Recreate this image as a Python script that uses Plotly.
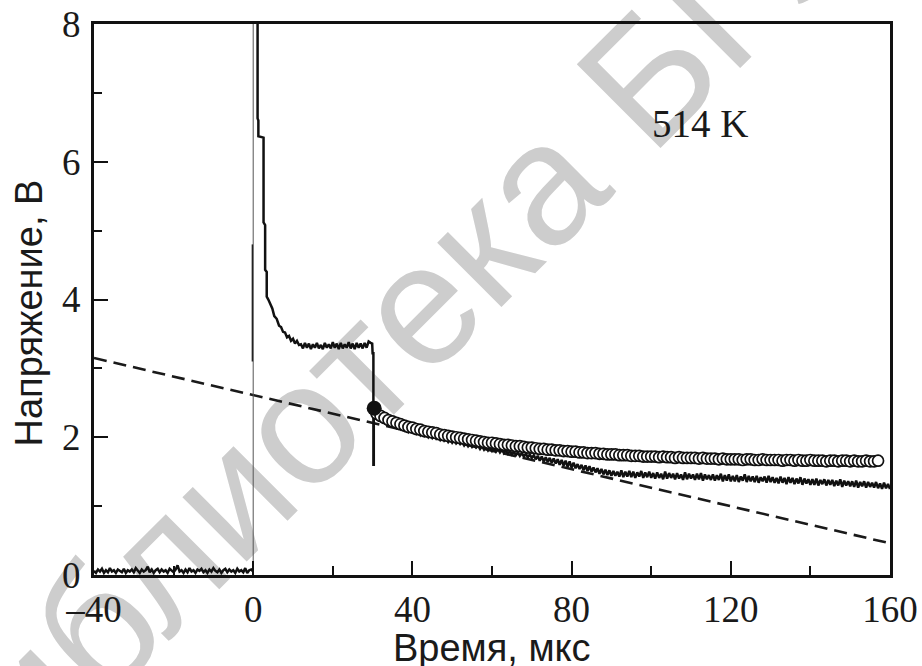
import numpy as np
import plotly.graph_objects as go

# ---------------- data ----------------
x_ticks = [-40, 0, 40, 80, 120, 160]
y_ticks = [0, 2, 4, 6, 8]

# baseline before the pulse, t = -40 ... 0 step 0.5 us
base_v = [0.06,0.03,0.08,0.05,0.09,0.03,0.07,0.04,0.10,0.05,
          0.07,0.03,0.08,0.06,0.04,0.09,0.03,0.07,0.05,0.08,
          0.04,0.10,0.06,0.03,0.08,0.05,0.07,0.12,0.04,0.08,
          0.03,0.07,0.09,0.04,0.08,0.05,0.07,0.03,0.09,0.06,
          0.04,0.08,0.14,0.05,0.07,0.03,0.08,0.04,0.10,0.05,
          0.07,0.03,0.08,0.06,0.09,0.04,0.07,0.03,0.08,0.05,
          0.10,0.06,0.04,0.08,0.03,0.07,0.09,0.04,0.08,0.05,
          0.07,0.03,0.09,0.05,0.07,0.04,0.10,0.03,0.07,0.08,
          0.05]
base_t0, base_dt = -40.0, 0.5

# leading edge of the pulse
rise_t = [0.0, 0.0]
rise_v = [0.05, 8.6]
spike_t = [-0.2, -0.2]
spike_v = [3.1, 4.8]

# fast decay after the pulse
decay_t = [1.1, 1.1, 1.3, 1.3, 2.6, 2.6, 3.0, 3.0, 3.4, 3.4, 3.8, 4.3, 4.8,
           5.3, 5.9, 6.5, 7.0, 7.5, 8.0, 8.5, 9.0, 9.5, 10.0, 10.5, 11.0, 11.5]
decay_v = [8.6, 6.63, 6.6, 6.37, 6.35, 5.12, 5.08, 4.43, 4.40, 4.04, 4.0, 3.93, 3.87,
           3.76, 3.72, 3.62, 3.60, 3.53, 3.52, 3.45, 3.47, 3.40, 3.43, 3.36, 3.40, 3.34]

# plateau, t = 12.0 ... 29.5 step 0.5 us
plat_v = [3.35,3.29,3.37,3.30,3.36,3.28,3.35,3.30,3.37,3.29,
          3.34,3.28,3.37,3.30,3.35,3.29,3.38,3.30,3.36,3.28,
          3.37,3.29,3.35,3.30,3.38,3.29,3.36,3.28,3.37,3.30,
          3.36,3.29,3.37,3.30,3.39,3.37]
plat_t0, plat_dt = 12.0, 0.5

# switch-off transient
drop_t = [29.9, 30.0, 30.2, 30.2, 30.3, 30.3]
drop_v = [3.36, 3.22, 3.22, 1.60, 1.60, 2.40]

# measured voltage after switch-off, t = 30.5 ... 160 step 0.5 us
tail_v = [2.34,2.28,2.31,2.24,2.27,2.21,2.24,2.18,2.22,2.17,
          2.20,2.14,2.18,2.12,2.15,2.10,2.14,2.08,2.12,2.07,
          2.10,2.05,2.08,2.03,2.07,2.02,2.05,2.00,2.04,1.99,
          2.03,1.98,2.01,1.96,2.00,1.95,1.98,1.93,1.97,1.92,
          1.96,1.91,1.94,1.90,1.93,1.88,1.92,1.87,1.91,1.86,
          1.89,1.85,1.88,1.83,1.87,1.82,1.86,1.81,1.85,1.80,
          1.84,1.79,1.83,1.78,1.82,1.77,1.81,1.76,1.80,1.75,
          1.79,1.74,1.78,1.73,1.77,1.72,1.76,1.71,1.75,1.70,
          1.74,1.68,1.73,1.66,1.72,1.65,1.71,1.64,1.70,1.63,
          1.69,1.62,1.68,1.60,1.67,1.59,1.66,1.57,1.65,1.56,
          1.63,1.55,1.61,1.54,1.60,1.52,1.59,1.51,1.58,1.50,
          1.56,1.49,1.55,1.47,1.54,1.46,1.53,1.45,1.52,1.44,
          1.51,1.44,1.50,1.43,1.52,1.42,1.50,1.43,1.51,1.42,
          1.50,1.41,1.49,1.43,1.51,1.41,1.49,1.42,1.50,1.41,
          1.48,1.40,1.49,1.41,1.47,1.39,1.50,1.40,1.48,1.41,
          1.47,1.39,1.48,1.40,1.46,1.38,1.49,1.39,1.47,1.40,
          1.46,1.38,1.47,1.39,1.48,1.37,1.46,1.39,1.45,1.38,
          1.46,1.37,1.45,1.38,1.47,1.36,1.45,1.37,1.46,1.36,
          1.44,1.36,1.45,1.35,1.43,1.37,1.46,1.35,1.44,1.36,
          1.43,1.35,1.44,1.34,1.42,1.36,1.43,1.34,1.44,1.35,
          1.42,1.34,1.41,1.33,1.43,1.34,1.41,1.32,1.42,1.34,
          1.41,1.32,1.40,1.33,1.42,1.31,1.40,1.33,1.39,1.31,
          1.39,1.31,1.40,1.30,1.38,1.32,1.39,1.30,1.38,1.31,
          1.38,1.29,1.37,1.30,1.39,1.28,1.37,1.30,1.36,1.29,
          1.36,1.28,1.37,1.27,1.35,1.29,1.36,1.27,1.35,1.28,
          1.34,1.27,1.35,1.26,1.33,1.25,1.34,1.26,1.32,1.25]
tail_t0, tail_dt = 30.5, 0.5

# model points (open circles), t = 31 ... 157 step 1 us
model_v = [2.34,2.31,2.28,2.25,2.23,2.21,2.19,2.17,2.15,2.14,
           2.12,2.11,2.09,2.08,2.07,2.06,2.04,2.03,2.02,2.01,
           2.00,1.99,1.98,1.97,1.96,1.95,1.94,1.93,1.92,1.92,
           1.91,1.90,1.89,1.89,1.88,1.87,1.87,1.86,1.85,1.85,
           1.84,1.83,1.83,1.82,1.82,1.81,1.81,1.80,1.80,1.79,
           1.79,1.78,1.78,1.77,1.77,1.77,1.76,1.76,1.75,1.75,
           1.75,1.74,1.74,1.74,1.73,1.73,1.73,1.72,1.72,1.72,
           1.72,1.71,1.72,1.71,1.71,1.70,1.71,1.70,1.70,1.70,
           1.70,1.69,1.70,1.69,1.69,1.69,1.68,1.69,1.68,1.68,
           1.68,1.68,1.67,1.68,1.68,1.67,1.67,1.68,1.67,1.67,
           1.67,1.67,1.66,1.67,1.67,1.66,1.67,1.66,1.66,1.67,
           1.66,1.66,1.66,1.65,1.66,1.66,1.65,1.66,1.66,1.65,
           1.66,1.65,1.65,1.66,1.65,1.65,1.66]
model_t0, model_dt = 31.0, 1.0

# switch-off point (filled circle)
off_t = [30.4]
off_v = [2.42]

# linear extrapolation (dashed)
fit_t = [-40, 160]
fit_v = [3.15, 0.46]

temp_label = "514 K"
x_title = "Время, мкс"
y_title = "Напряжение, В"
watermark = "Библиотека БГУИР"

# ---------------- build ----------------
def grid(t0, dt, vals):
    return list(t0 + dt * np.arange(len(vals)))

base_t = grid(base_t0, base_dt, base_v)
plat_t = grid(plat_t0, plat_dt, plat_v)
tail_t = grid(tail_t0, tail_dt, tail_v)
model_t = grid(model_t0, model_dt, model_v)

sig_t = decay_t + plat_t + drop_t + tail_t
sig_v = decay_v + plat_v + drop_v + tail_v

fig = go.Figure()
fig.add_trace(go.Scatter(x=fit_t, y=fit_v, mode="lines",
                         line=dict(color="#1a1a1a", width=2.6, dash="13px,7px")))
fig.add_trace(go.Scatter(x=base_t, y=base_v, mode="lines",
                         line=dict(color="#111", width=2.5)))
fig.add_trace(go.Scatter(x=rise_t, y=rise_v, mode="lines",
                         line=dict(color="#555", width=1)))
fig.add_trace(go.Scatter(x=spike_t, y=spike_v, mode="lines",
                         line=dict(color="#222", width=1.5)))
fig.add_trace(go.Scatter(x=sig_t, y=sig_v, mode="lines",
                         line=dict(color="#111", width=2.5)))
fig.add_trace(go.Scatter(x=model_t, y=model_v, mode="markers",
                         marker=dict(symbol="circle", size=11, color="white",
                                     line=dict(color="#111", width=1.7))))
fig.add_trace(go.Scatter(x=off_t, y=off_v, mode="markers",
                         marker=dict(symbol="circle", size=15, color="#111")))

# watermark as a label of an invisible 45-degree line, below the data
fig.add_shape(type="line", xref="paper", yref="paper", layer="below",
              x0=-0.3128, y0=-0.51, x1=1.1947, y1=1.6679,
              line=dict(color="rgba(0,0,0,0)", width=0),
              label=dict(text=watermark, textposition="middle", yanchor="middle",
                         font=dict(family="Liberation Sans", size=172, color="#cdcdcd")))

axis_common = dict(showline=True, linecolor="#111", linewidth=3, mirror=True,
                   showgrid=False, zeroline=False, ticks="inside", ticklen=14,
                   tickwidth=2, tickcolor="#111", automargin=False,
                   tickfont=dict(family="Liberation Serif", size=37, color="#1a1a1a"))

fig.update_xaxes(range=[-40, 160], tickmode="array", tickvals=x_ticks,
                 ticktext=["\u201340" if v < 0 else str(v) for v in x_ticks],
                 minor=dict(tickmode="linear", tick0=-40, dtick=20, ticks="inside",
                            ticklen=9, tickwidth=2, tickcolor="#111"),
                 **axis_common)
fig.update_yaxes(range=[0, 8], tickmode="array", tickvals=y_ticks,
                 ticktext=[str(v) for v in y_ticks], ticklabelstandoff=3,
                 minor=dict(tickmode="linear", tick0=0, dtick=1, ticks="inside",
                            ticklen=8, tickwidth=2, tickcolor="#111"),
                 **axis_common)

fig.add_annotation(x=112.3, y=6.55, xref="x", yref="y", text=temp_label,
                   showarrow=False, font=dict(family="Liberation Serif", size=39, color="#1a1a1a"))
fig.add_annotation(x=0.5, y=-0.132, xref="paper", yref="paper", text=x_title,
                   showarrow=False, xanchor="center", yanchor="middle",
                   font=dict(family="Liberation Sans", size=38, color="#1a1a1a"))
fig.add_annotation(x=-0.082, y=0.476, xref="paper", yref="paper", text=y_title,
                   showarrow=False, textangle=-90, xanchor="center", yanchor="middle",
                   font=dict(family="Liberation Sans", size=38, color="#1a1a1a"))

fig.update_layout(width=922, height=666, margin=dict(l=94, r=32, t=24, b=91, autoexpand=False),
                  showlegend=False, paper_bgcolor="white",
                  plot_bgcolor="rgba(0,0,0,0)")

fig.write_html("out.html", config={"displayModeBar": False},
               post_script="document.body.style.margin='0';document.body.style.overflow='hidden';")
